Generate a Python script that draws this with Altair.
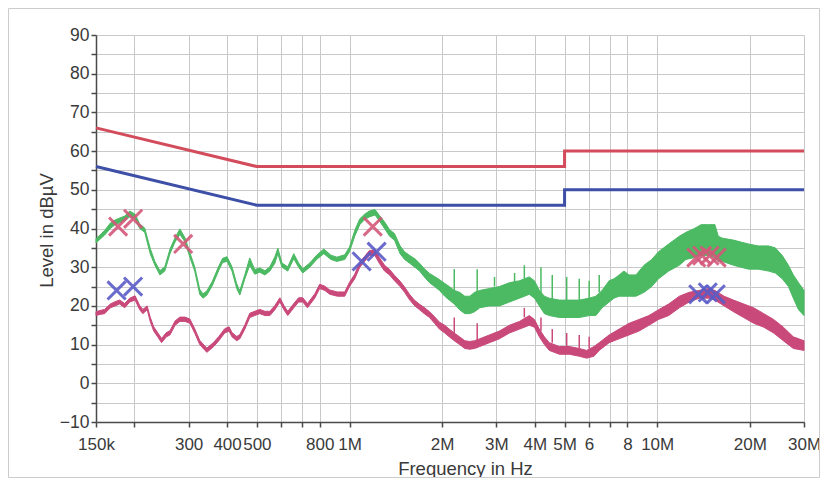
import altair as alt
import pandas as pd

# ---------------- data (frequencies in kHz, levels in dBµV) ----------------
tick_khz = [150, 200, 300, 400, 500, 600, 700, 800, 1000, 2000, 3000, 4000,
            5000, 6000, 7000, 8000, 10000, 20000, 30000]
tick_text = ["150k", "", "300", "400", "500", "", "", "800", "1M", "2M", "3M", "4M",
             "5M", "6", "", "8", "10M", "20M", "30M"]

limit_khz = [150, 500, 5000, 5000, 30000]
qp_limit = [66, 56, 56, 60, 60]
av_limit = [56, 46, 46, 50, 50]

green_khz = [150, 154.5, 160, 167, 173, 179, 186, 193, 201, 208,
             216, 225, 233, 242, 251, 261, 271, 281, 292, 303,
             314, 326, 334, 344, 358, 376, 387, 400, 415, 430,
             440, 457, 474, 492, 511, 531, 551, 572, 585, 603,
             630, 659, 683, 705, 743, 782, 825, 870, 910, 965,
             1000, 1040, 1080, 1120, 1160, 1210, 1250, 1300, 1350, 1400,
             1460, 1510, 1570, 1630, 1690, 1750, 1820, 1890, 1960, 2040,
             2110, 2190, 2280, 2370, 2460, 2550, 2650, 2850, 3070, 3310,
             3570, 3840, 3990, 4140, 4300, 4460, 4810, 5180, 5580, 6010,
             6320, 6620, 6980, 7240, 7520, 7800, 8100, 8530, 9060, 9600,
             10100, 10900, 11800, 12400, 13200, 13900, 14700, 15400, 15800, 16300,
             17700, 18700, 19800, 21300, 23000, 24200, 25500, 26700, 27700, 28800,
             30000]
green_lo = [36.3, 37.2, 38.3, 40, 41, 41.5, 42, 43, 42.5, 40,
            39, 33.5, 30.5, 28, 29, 33.5, 36.5, 38.5, 36.5, 32.5,
            29, 23, 22, 22.8, 25.2, 29.2, 31.2, 31.5, 29, 24.5,
            22.8, 27, 30.5, 28.2, 28.7, 28, 29, 31, 33.5, 30,
            29, 32.2, 30, 28.5, 30, 32, 33.5, 32, 31.5, 32,
            34, 38, 41, 42.3, 43, 43.5, 42, 40, 38, 37,
            33.5, 32, 31, 30, 29, 27.5, 26, 25, 24, 22.5,
            21.5, 20.5, 19, 18, 18, 18.5, 19.5, 20, 20, 21,
            22, 23, 22, 20, 18, 17.5, 17, 17, 17, 17.5,
            17.5, 19.5, 21, 22, 22.5, 22.5, 22.5, 22.5, 23.5, 25,
            27, 29, 30.5, 32, 32.5, 33, 33, 32.5, 31.5, 31.5,
            30.5, 30, 29.5, 29.5, 29, 28.5, 27, 25, 22, 19,
            17.5]
green_hi = [37.4, 38.3, 39.5, 41.4, 42.2, 42.7, 43.2, 44.5, 43.7, 41.2,
            40.1, 34.9, 31.5, 29.1, 30.1, 34.7, 37.6, 39.9, 37.6, 33.7,
            30.1, 24.3, 23.1, 23.9, 26.3, 30.3, 32.3, 32.7, 30.1, 25.7,
            23.9, 28.1, 32.4, 29.4, 29.8, 29.1, 30.1, 32.7, 34.9, 31.1,
            30.1, 33.5, 31.1, 29.6, 31.1, 33.1, 34.7, 33.1, 32.6, 33.2,
            35.2, 39.5, 42.5, 43.7, 44.5, 44.9, 43.4, 41.7, 39.7, 38.7,
            35.5, 34, 33, 32.2, 31, 29.6, 28.4, 27.6, 26.8, 25.8,
            25, 24, 23.5, 22.5, 22.5, 23.5, 24, 24.5, 25, 26,
            26.5, 27.5, 26.5, 24, 22.5, 22, 21.5, 21.5, 21.5, 22,
            22.5, 24, 26.5, 27, 28, 29, 28, 28, 30.5, 32,
            34, 36, 38, 39, 40, 41, 41, 41, 38, 37.5,
            37, 36.5, 36, 35.5, 35.5, 35, 33, 30.5, 28, 26,
            24]

pink_khz = [150, 154.5, 160, 167, 173, 179, 186, 193, 201, 208,
            213, 220, 225, 231, 238, 245, 254, 261, 271, 281,
            292, 303, 314, 326, 339, 344, 362, 376, 393, 406,
            415, 430, 440, 457, 474, 492, 511, 531, 551, 572,
            594, 612, 630, 659, 683, 705, 730, 771, 800, 831,
            863, 913, 965, 1000, 1040, 1080, 1120, 1160, 1210, 1250,
            1300, 1350, 1400, 1460, 1510, 1570, 1630, 1690, 1750, 1820,
            1890, 1960, 2040, 2110, 2190, 2280, 2370, 2460, 2550, 2650,
            2850, 3070, 3310, 3570, 3840, 3990, 4140, 4300, 4460, 4810,
            5180, 5580, 5900, 6230, 6480, 6980, 7520, 8100, 8730, 9400,
            10100, 10900, 11800, 12700, 13700, 14700, 15400, 16500, 17700, 19100,
            20600, 22200, 23900, 25700, 27700, 30000]
pink_lo = [17.5, 17.8, 18, 19.5, 20, 20.5, 19.5, 21, 21.5, 19,
           18, 19, 16, 13.5, 12, 10.5, 12, 12.5, 15, 16,
           16, 15.5, 13, 10, 8.5, 8, 9.5, 11, 13, 13.5,
           12, 11, 11.5, 14, 17, 17.5, 18, 17.5, 17.5, 19,
           21, 19, 17.5, 19.5, 21, 21, 19.5, 22, 24.5, 24,
           23, 22.5, 22.5, 25, 27, 30, 31.5, 33, 33, 31,
           29, 28, 26.5, 25, 23.5, 21.5, 20, 19, 18, 17,
           15.5, 14, 13, 12, 11, 10, 9, 8.8, 9, 9.5,
           10.5, 11.5, 13, 14, 15, 14.5, 12, 10, 8.5, 7.5,
           7.5, 7, 6.5, 7, 8.5, 10.5, 11.5, 12.5, 13.5, 15,
           16.5, 17.5, 19.5, 21, 22, 22, 21.5, 20, 18.5, 17,
           15.5, 14.5, 13, 11, 9, 8.5]
pink_hi = [18.5, 18.8, 19.1, 20.5, 21.1, 21.5, 20.6, 22, 22.6, 20.1,
           19.1, 20, 17.1, 14.6, 13.1, 11.6, 13.1, 13.6, 16.1, 17.1,
           17.1, 16.6, 14.1, 11.1, 9.6, 9.1, 10.6, 12.1, 14.1, 14.6,
           13.1, 12.1, 12.6, 15.1, 18.1, 18.6, 19.1, 18.6, 18.6, 20.1,
           22.1, 20.1, 18.6, 20.6, 22.1, 22.1, 20.6, 23.1, 25.6, 25.1,
           24.1, 23.6, 23.6, 26.1, 28.2, 31.3, 32.8, 34.3, 34.5, 32.5,
           30.5, 29.4, 27.9, 26.4, 24.9, 22.9, 21.4, 20.4, 19.6, 18.5,
           17.2, 15.8, 15, 14, 13, 12, 11, 10.8, 11, 11.5,
           12.5, 13.5, 15, 16, 17.5, 16.5, 14, 12, 10.5, 9.5,
           9.5, 9, 8.5, 9.5, 10.5, 12.5, 14, 15.5, 16.5, 17.5,
           19, 20.5, 22.5, 23.5, 24, 24.5, 24, 22.5, 21.5, 20.5,
           19.5, 18, 16.5, 14.5, 12, 11]

green_spike_khz = [2190, 2600, 2960, 3440, 3700, 4190, 4560, 5080, 5580, 6010, 6480]
green_spike_base = [23, 23.5, 25, 26, 27, 23, 21.5, 21, 21, 21.5, 23.5]
green_spike_top = [29.5, 29.5, 27.5, 28.5, 30.5, 30, 28, 27.5, 27, 26.5, 28]
pink_spike_khz = [2190, 2600, 3700, 4190, 4560, 5080, 5580, 6010]
pink_spike_base = [13, 11, 17, 13.5, 10.5, 9.5, 9, 9]
pink_spike_top = [17, 15.5, 19.5, 17, 14, 13, 12.5, 12]

qp_mark_khz = [177, 198, 288, 1190, 13400, 14000, 14800, 15600]
qp_mark_level = [40.5, 42.5, 36, 40.5, 32.5, 33, 33, 32.5]
av_mark_khz = [175, 198, 1095, 1225, 13600, 14600, 15500]
av_mark_level = [24, 25, 31.5, 34, 23, 23.5, 23]

# ---------------- tables ----------------
limits = pd.DataFrame({"f": limit_khz, "qp": qp_limit, "av": av_limit,
                       "i": list(range(len(limit_khz)))})
green = pd.DataFrame({"f": green_khz, "lo": green_lo, "hi": green_hi})
pink = pd.DataFrame({"f": pink_khz, "lo": pink_lo, "hi": pink_hi})
gspk = pd.DataFrame({"f": green_spike_khz, "lo": green_spike_base, "hi": green_spike_top})
pspk = pd.DataFrame({"f": pink_spike_khz, "lo": pink_spike_base, "hi": pink_spike_top})
qpm = pd.DataFrame({"f": qp_mark_khz, "v": qp_mark_level})
avm = pd.DataFrame({"f": av_mark_khz, "v": av_mark_level})

FONT = "Liberation Sans"
TXT = "#3a3a3a"
AX = "#4a4a4a"
GRID = "#c9c9c9"

label_expr = "".join(f"datum.value == {v} ? '{t}' : " for v, t in zip(tick_khz, tick_text)) + "''"

xs = alt.Scale(type="log", domain=[150, 30000], nice=False)
ys = alt.Scale(domain=[-10, 90], nice=False, zero=False)

xaxis = alt.Axis(values=tick_khz, labelExpr=label_expr, labelOverlap=False, labelFlush=False,
                 grid=True, gridColor=GRID, gridWidth=1,
                 domainColor=AX, domainWidth=1.5, tickColor=AX, tickWidth=1.5, tickSize=5,
                 labelPadding=9, labelFont=FONT, labelFontSize=17, labelColor=TXT,
                 title="Frequency in Hz", titleFont=FONT, titleFontSize=18.5,
                 titleFontWeight="normal", titleColor=TXT,
                 titleX=369, titleY=52, titleBaseline="alphabetic", titleAlign="center")
yaxis = alt.Axis(values=list(range(-10, 95, 5)),
                 labelExpr="datum.value % 10 == 0 ? datum.label : ''", labelOverlap=False,
                 grid=True, gridColor=GRID, gridWidth=1,
                 domainColor=AX, domainWidth=1.5, tickColor=AX, tickWidth=1.5, tickSize=5,
                 labelPadding=2, labelFont=FONT, labelFontSize=17.5, labelColor=TXT,
                 title="Level in dBµV", titleFont=FONT, titleFontSize=18.5,
                 titleFontWeight="normal", titleColor=TXT,
                 titleX=-44, titleY=195, titleBaseline="alphabetic", titleAlign="center",
                 titleAngle=270)


def X(field="f"):
    return alt.X(f"{field}:Q", scale=xs, axis=xaxis)


def Y(field):
    return alt.Y(f"{field}:Q", scale=ys, axis=yaxis)


frame = alt.Chart(pd.DataFrame({"a": [0]})).mark_rect(
    fillOpacity=0, stroke="#cccccc", strokeWidth=1
).encode(x=alt.value(-87.5), x2=alt.value(723.5), y=alt.value(-26.5), y2=alt.value(442.5))

GREEN = "#4cb963"
PINK = "#c9497a"

green_area = alt.Chart(green).mark_area(color=GREEN, stroke=GREEN, strokeWidth=1,
                                        opacity=1).encode(x=X(), y=Y("hi"), y2="lo")
pink_area = alt.Chart(pink).mark_area(color=PINK, stroke=PINK, strokeWidth=1,
                                      opacity=1).encode(x=X(), y=Y("hi"), y2="lo")
green_sp = alt.Chart(gspk).mark_rule(color=GREEN, strokeWidth=1.5).encode(
    x=X(), y=Y("hi"), y2="lo")
pink_sp = alt.Chart(pspk).mark_rule(color=PINK, strokeWidth=1.5).encode(
    x=X(), y=Y("hi"), y2="lo")

qp_line = alt.Chart(limits).mark_line(color="#d24c5c", strokeWidth=3).encode(
    x=X(), y=Y("qp"), order="i:Q")
av_line = alt.Chart(limits).mark_line(color="#3d4fa6", strokeWidth=3).encode(
    x=X(), y=Y("av"), order="i:Q")

XSHAPE = "M-1,-1L1,1M-1,1L1,-1"
qp_pts = alt.Chart(qpm).mark_point(shape=XSHAPE, filled=False, size=330, strokeWidth=3,
                                   color="#d4587a", opacity=0.9).encode(x=X(), y=Y("v"))
av_pts = alt.Chart(avm).mark_point(shape=XSHAPE, filled=False, size=330, strokeWidth=3,
                                   color="#5a5cc8", opacity=0.9).encode(x=X(), y=Y("v"))

chart = alt.layer(
    frame, qp_line, av_line, green_area, green_sp, pink_area, pink_sp, qp_pts, av_pts
).properties(
    width=708, height=387,
    autosize=alt.AutoSizeParams(type="none"),
    padding={"left": 88, "top": 27, "right": 16, "bottom": 56},
    background="white",
).configure_view(stroke="transparent")

chart.save("out.html", embed_options={"renderer": "svg", "actions": False})
